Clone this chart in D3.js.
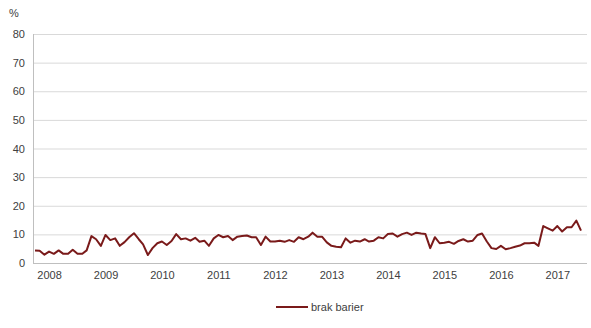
<!DOCTYPE html>
<html>
<head>
<meta charset="utf-8">
<script src="https://cdn.jsdelivr.net/npm/d3@7"></script>
<style>
  body { margin: 0; background: #fff; }
  svg { font-family: "Liberation Sans", Arial, sans-serif; }
</style>
</head>
<body>
<svg id="chart" width="591" height="328"></svg>
<script>
// monthly values, Apr 2008 .. Dec 2017
const startMonth = new Date(2008, 3, 1);
const values = [
  4.4, 4.3, 2.9, 4.0, 3.2, 4.4, 3.2, 3.2, 4.6, 3.2, 3.2, 4.4,
  9.4, 8.3, 6.0, 9.8, 8.0, 8.6, 6.0, 7.3, 9.0, 10.4, 8.3, 6.5,
  2.8, 5.2, 6.9, 7.5, 6.3, 7.7, 10.1, 8.3, 8.6, 7.8, 8.8, 7.4,
  7.8, 6.0, 8.6, 9.8, 9.0, 9.4, 8.0, 9.2, 9.4, 9.6, 9.0, 9.0,
  6.3, 9.2, 7.5, 7.5, 7.8, 7.4, 8.0, 7.4, 9.0, 8.3, 9.2, 10.6,
  9.2, 9.2, 7.2, 6.0, 5.7, 5.5, 8.6, 7.1, 7.8, 7.5, 8.3, 7.5,
  7.8, 9.0, 8.6, 10.1, 10.3, 9.2, 10.1, 10.6, 9.8, 10.6, 10.3, 10.1,
  5.2, 9.0, 6.9, 7.1, 7.4, 6.7, 7.7, 8.3, 7.5, 7.8, 9.8, 10.3,
  7.5, 5.2, 4.9, 6.0, 4.8, 5.2, 5.7, 6.1, 6.9, 6.9, 7.1, 6.0,
  12.9, 12.1, 11.3, 12.9, 11.0, 12.5, 12.5, 14.8, 11.3
];
const years = [2008, 2009, 2010, 2011, 2012, 2013, 2014, 2015, 2016, 2017];
const yTicks = [0, 10, 20, 30, 40, 50, 60, 70, 80];
const seriesName = 'brak barier';
const unitLabel = '%';

const data = values.map((v, i) => ({
  date: new Date(startMonth.getFullYear(), startMonth.getMonth() + i, 1),
  value: v
}));

const svg = d3.select('#chart');
const plot = { left: 33, right: 587, top: 34, bottom: 263 };
const lineColor = '#7a1a1a';

const x = d3.scaleTime()
  .domain([data[0].date, data[data.length - 1].date])
  .range([35, 581]);
const y = d3.scaleLinear().domain([0, 80]).range([plot.bottom, plot.top]);

// gridlines
svg.append('g')
  .attr('transform', `translate(${plot.left},0)`)
  .call(d3.axisLeft(y).tickValues(yTicks).tickFormat('').tickSize(-(plot.right - plot.left)))
  .call(g => g.select('.domain').remove())
  .call(g => g.selectAll('line').attr('stroke', '#d9d9d9'));

// y axis line + labels
svg.append('line')
  .attr('x1', plot.left + 0.5).attr('x2', plot.left + 0.5)
  .attr('y1', plot.top).attr('y2', plot.bottom)
  .attr('stroke', '#bfbfbf');

svg.append('g')
  .attr('transform', `translate(${plot.left},0)`)
  .call(d3.axisLeft(y).tickValues(yTicks).tickSize(0).tickPadding(8))
  .call(g => g.select('.domain').remove())
  .call(g => g.selectAll('text')
    .attr('font-size', 11)
    .attr('font-family', '"Liberation Sans", Arial, sans-serif')
    .attr('fill', '#404040'));

// x axis line
svg.append('line')
  .attr('x1', plot.left).attr('x2', plot.right)
  .attr('y1', plot.bottom + 0.5).attr('y2', plot.bottom + 0.5)
  .attr('stroke', '#bfbfbf');

svg.append('g')
  .attr('transform', `translate(0,${plot.bottom})`)
  .call(d3.axisBottom(x)
    .tickValues(years.map(yr => new Date(yr, 6, 1)))
    .tickFormat(d3.timeFormat('%Y'))
    .tickSize(0).tickPadding(8))
  .call(g => g.select('.domain').remove())
  .call(g => g.selectAll('text')
    .attr('font-size', 11)
    .attr('font-family', '"Liberation Sans", Arial, sans-serif')
    .attr('fill', '#404040'));

// unit label
svg.append('text')
  .attr('x', 9).attr('y', 17)
  .attr('font-size', 11)
  .attr('fill', '#404040')
  .text(unitLabel);

// the series
const line = d3.line()
  .x(d => x(d.date))
  .y(d => y(d.value));

svg.append('path')
  .datum(data)
  .attr('d', line)
  .attr('fill', 'none')
  .attr('stroke', lineColor)
  .attr('stroke-width', 2)
  .attr('stroke-linejoin', 'round');

// legend
const legend = svg.append('g').attr('transform', 'translate(276,307)');
legend.append('line')
  .attr('x1', 0).attr('x2', 32)
  .attr('stroke', lineColor).attr('stroke-width', 2);
legend.append('text')
  .attr('x', 35).attr('y', 4)
  .attr('font-size', 11)
  .attr('fill', '#404040')
  .text(seriesName);
</script>
</body>
</html>
